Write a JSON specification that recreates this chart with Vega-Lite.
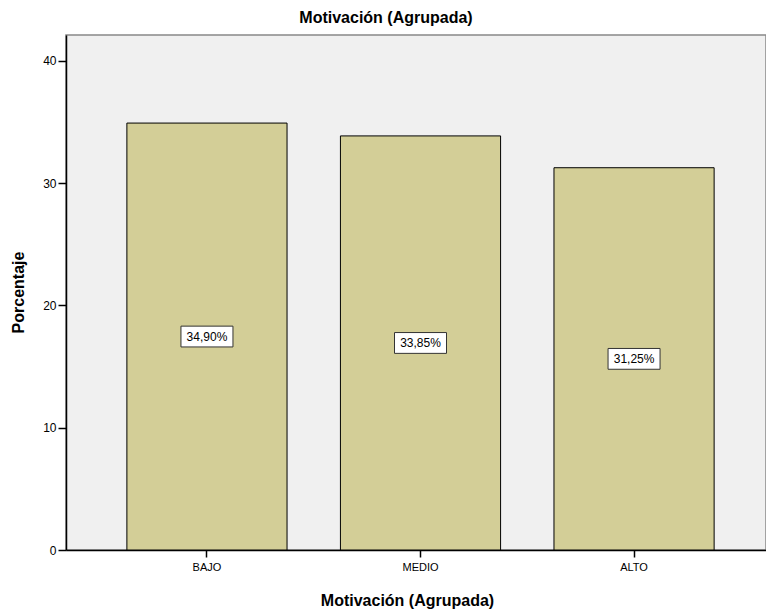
{
  "$schema": "https://vega.github.io/schema/vega-lite/v6.json",
  "width": 700,
  "height": 515,
  "autosize": {"type": "none"},
  "padding": {"left": 66, "top": 35, "right": 0, "bottom": 62},
  "background": "#ffffff",
  "title": {
    "text": "Motivación (Agrupada)",
    "font": "Liberation Sans",
    "fontSize": 16,
    "fontWeight": "bold",
    "color": "#000000",
    "anchor": "middle",
    "frame": "group",
    "dx": -30,
    "offset": 9
  },
  "config": {
    "view": {"fill": "#f0f0f0", "stroke": "#888888", "strokeWidth": 1.5},
    "font": "Liberation Sans"
  },
  "data": {
    "values": [
      {"categoria": "BAJO", "porcentaje": 34.90, "etiqueta": "34,90%"},
      {"categoria": "MEDIO", "porcentaje": 33.85, "etiqueta": "33,85%"},
      {"categoria": "ALTO", "porcentaje": 31.25, "etiqueta": "31,25%"}
    ]
  },
  "encoding": {
    "x": {
      "field": "categoria",
      "type": "nominal",
      "sort": ["BAJO", "MEDIO", "ALTO"],
      "scale": {"paddingInner": 0.25, "paddingOuter": 0.264, "align": 0.54},
      "axis": {
        "title": "Motivación (Agrupada)",
        "titleFont": "Liberation Sans",
        "titleFontSize": 16,
        "titleFontWeight": "bold",
        "titleColor": "#000000",
        "titleX": 341,
        "titleY": 50,
        "titleBaseline": "middle",
        "labelAngle": 0,
        "labelFont": "Liberation Sans",
        "labelFontSize": 11,
        "labelColor": "#000000",
        "labelPadding": 4,
        "domainColor": "#000000",
        "domainWidth": 1.5,
        "tickColor": "#000000",
        "tickSize": 7,
        "tickWidth": 1.5
      }
    }
  },
  "layer": [
    {
      "mark": {"type": "bar", "fill": "#d3ce97", "stroke": "#000000", "strokeWidth": 1},
      "encoding": {
        "y": {
          "field": "porcentaje",
          "type": "quantitative",
          "scale": {"domain": [0, 42.1], "nice": false},
          "axis": {
            "title": "Porcentaje",
            "titleFont": "Liberation Sans",
            "titleFontSize": 16,
            "titleFontWeight": "bold",
            "titleColor": "#000000",
            "titleX": -48,
            "titleY": 257,
            "titleBaseline": "middle",
            "titleAngle": -90,
            "values": [0, 10, 20, 30, 40],
            "grid": false,
            "labelFont": "Liberation Sans",
            "labelFontSize": 12,
            "labelColor": "#000000",
            "labelPadding": 2,
            "domainColor": "#000000",
            "domainWidth": 1.5,
            "tickColor": "#000000",
            "tickSize": 8,
            "tickWidth": 1.5
          }
        }
      }
    },
    {
      "transform": [{"calculate": "datum.porcentaje / 2", "as": "medio"}],
      "mark": {
        "type": "point",
        "shape": "M-1,-0.4L1,-0.4L1,0.4L-1,0.4Z",
        "size": 2704,
        "filled": true,
        "fill": "#ffffff",
        "stroke": "#333333",
        "strokeWidth": 1,
        "opacity": 1
      },
      "encoding": {
        "y": {"field": "medio", "type": "quantitative"}
      }
    },
    {
      "transform": [{"calculate": "datum.porcentaje / 2", "as": "medio"}],
      "mark": {
        "type": "text",
        "font": "Liberation Sans",
        "fontSize": 12,
        "color": "#000000",
        "align": "center",
        "baseline": "middle"
      },
      "encoding": {
        "y": {"field": "medio", "type": "quantitative"},
        "text": {"field": "etiqueta"}
      }
    }
  ]
}
